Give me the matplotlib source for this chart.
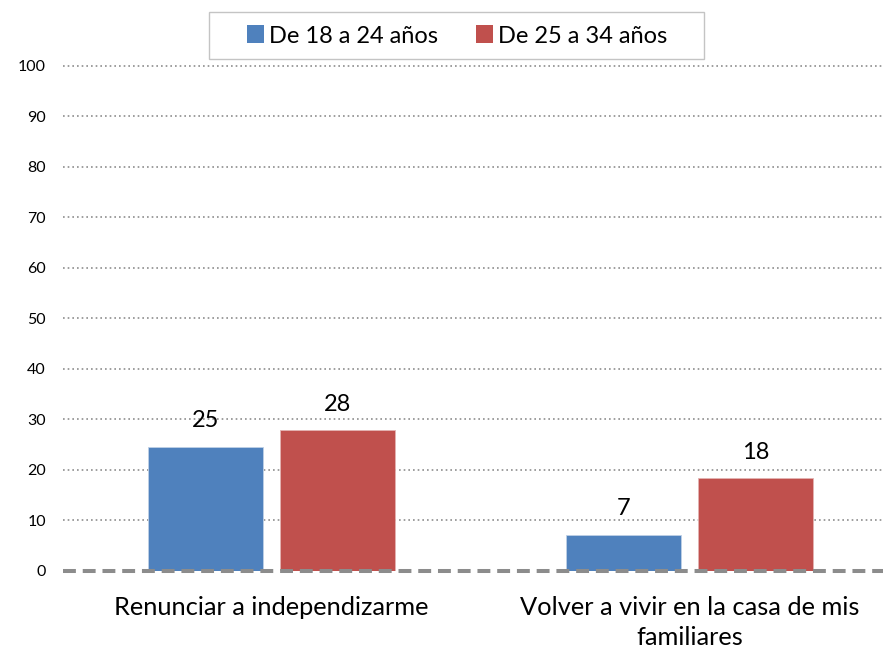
import numpy as np
import matplotlib.pyplot as plt
from matplotlib.patches import Rectangle

# chart data
categories = ['Renunciar a independizarme', 'Volver a vivir en la casa de mis\nfamiliares']
series_names = ['De 18 a 24 años', 'De 25 a 34 años']
young = [24.6, 7.2]     # De 18 a 24 años
older = [27.9, 18.3]    # De 25 a 34 años
yticks = list(range(0, 101, 10))

colors = ['#4F81BD', '#C0504D']

plt.rcParams['font.family'] = ['Lato', 'DejaVu Sans']

fig = plt.figure(figsize=(8.83, 6.51), dpi=100)
W, H = 883, 651
ax = fig.add_axes([62.5 / W, 1 - 571 / H, (898.5 - 62.5) / W, (571 - 65.5) / H])

x = np.arange(len(categories))
bw = 0.275
off = 0.158

b1 = ax.bar(x - off, young, bw, color=colors[0], edgecolor='#BFD0E6', linewidth=0.6,
            label=series_names[0], zorder=2)
b2 = ax.bar(x + off, older, bw, color=colors[1], edgecolor='#E3B4B3', linewidth=0.6,
            label=series_names[1], zorder=2)

for bars in (b1, b2):
    ax.bar_label(bars, fmt='%.0f', padding=11, fontsize=17, color='#000000')

# gridlines, dotted
for t in yticks[1:]:
    ax.axhline(t, color='#8E8E8E', linewidth=1.2, linestyle=(0, (1, 1.8)), zorder=1,
               clip_on=False)
# zero line, thick dashed
ax.axhline(0, color='#8C8C8C', linewidth=2.9, linestyle=(0, (3.2, 1.7)), zorder=3,
           clip_on=False)

ax.set_xlim(-0.5, 1.5)
ax.set_ylim(0, 100)
ax.set_yticks(yticks)
ax.tick_params(axis='y', length=0, pad=12, labelsize=11.5)
ax.set_xticks(x)
ax.set_xticklabels(categories, fontsize=18.3, linespacing=1.38)
ax.tick_params(axis='x', length=0, pad=18)
for s in ax.spines.values():
    s.set_visible(False)

# legend box drawn separately (wider side padding than matplotlib gives)
fig.patches.append(Rectangle((209 / W, 1 - 59 / H), (704 - 209) / W, 47 / H,
                             transform=fig.transFigure, facecolor='white',
                             edgecolor='#C4C4C4', linewidth=1.0, zorder=5))
leg = fig.legend(handles=[b1, b2], labels=series_names, loc='center',
                 bbox_to_anchor=(457 / W, 1 - 36 / H), ncol=2, fontsize=17,
                 frameon=False, handlelength=0.72, handleheight=0.78,
                 handletextpad=0.22, columnspacing=1.6, borderpad=0.2)
leg.set_zorder(6)
for h in leg.legend_handles:
    h.set_edgecolor('none')

fig.savefig('out.png', dpi=100)
